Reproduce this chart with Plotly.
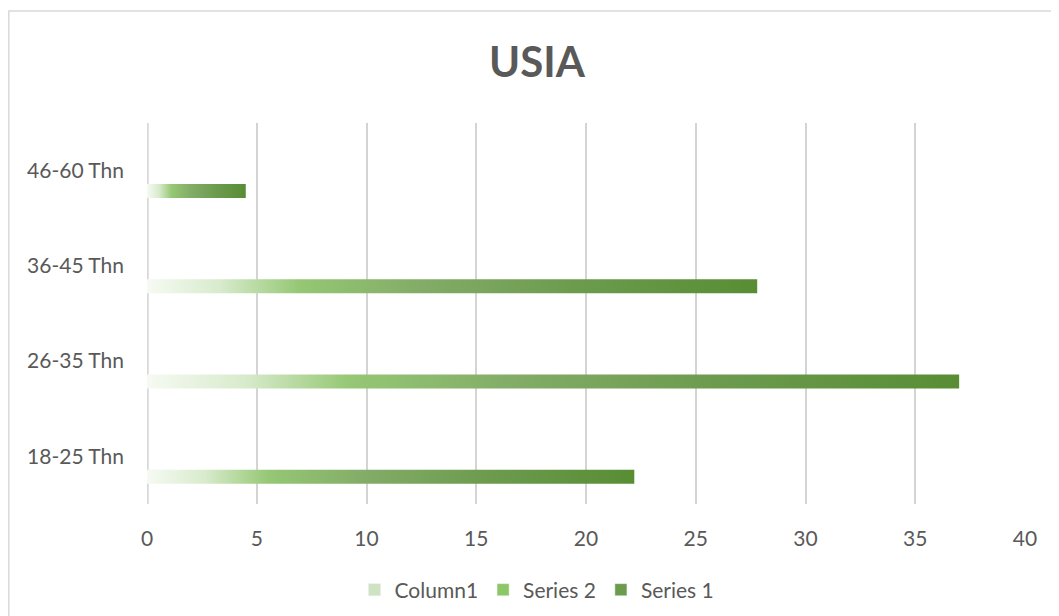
import plotly.graph_objects as go

# ---- data ----
categories = ["18-25 Thn", "26-35 Thn", "36-45 Thn", "46-60 Thn"]
series_1 = [22.2, 37.0, 27.8, 4.5]
series_2 = [None, None, None, None]
column_1 = [None, None, None, None]
series_names = ["Column1", "Series 2", "Series 1"]
x_ticks = [0, 5, 10, 15, 20, 25, 30, 35, 40]

# ---- style ----
TEXT = "#595959"
GRID = "#d4d4d4"
FONT = "Lato"
W, H = 1051, 608
L, R, T, B = 139, 34, 115, 112
BAR_STEP = 0.214      # distance between series slots in a group (category units)
BAR_HALF = 0.074      # half thickness of one bar (category units)

grad_scales = {
    "Series 1": [[0.0, "#f6faf3"], [0.12, "#d8ebcc"], [0.25, "#95c774"],
                 [0.45, "#82ac67"], [0.7, "#6c9b4e"], [1.0, "#588d34"]],
    "Series 2": [[0.0, "#f6faf3"], [0.3, "#a9d48d"], [1.0, "#7fbf55"]],
    "Column1": [[0.0, "#ffffff"], [1.0, "#c3dcb3"]],
}
legend_colors = {"Column1": "#cfe3c2", "Series 2": "#8dc666", "Series 1": "#6b9b4b"}

values_by_series = {"Column1": column_1, "Series 2": series_2, "Series 1": series_1}
# slot index from bottom of each category group
slot = {"Series 1": 0, "Series 2": 1, "Column1": 2}

fig = go.Figure()

# legend entries (bar-style square swatches)
for name in series_names:
    fig.add_trace(go.Bar(
        x=[None], y=[None], orientation="h", name=name,
        marker=dict(color=legend_colors[name]), showlegend=True,
        hoverinfo="skip",
    ))

# gradient bars drawn on the numeric category axis
for name in series_names:
    vals = values_by_series[name]
    off = (slot[name] - 1) * BAR_STEP
    for i, v in enumerate(vals):
        if v is None:
            continue
        yc = i + off
        y0, y1 = yc - BAR_HALF, yc + BAR_HALF
        fig.add_trace(go.Scatter(
            x=[0, v, v, 0, 0], y=[y0, y0, y1, y1, y0],
            mode="lines", fill="toself", line=dict(width=0),
            fillgradient=dict(type="horizontal", colorscale=grad_scales[name],
                              start=0, stop=v),
            showlegend=False, hoverinfo="text",
            text=f"{name}: {categories[i]} = {v}",
        ))

# chart-area border (Excel style)
pw, ph = W - L - R, H - T - B
fig.add_shape(type="rect", xref="paper", yref="paper",
              x0=(0.8 - L) / pw, x1=(W + 20 - L) / pw,
              y0=-(H + 20 - (H - B)) / ph, y1=1 + (T - 3) / ph,
              line=dict(color="#d9d9d9", width=1.5), fillcolor="rgba(0,0,0,0)",
              layer="below")

fig.update_layout(
    width=W, height=H,
    margin=dict(l=L, r=R, t=T, b=B),
    paper_bgcolor="white", plot_bgcolor="white",
    font=dict(family=FONT, color=TEXT, size=21),
    title=dict(text="<b>USIA</b>", font=dict(family=FONT, size=42, color=TEXT),
               x=529 / W, xref="container", xanchor="center",
               y=1 - 54 / H, yref="container", yanchor="middle"),
    barmode="group",
    legend=dict(orientation="h", x=529 / W, xref="container", xanchor="center",
                y=1 - 582 / H, yref="container", yanchor="middle",
                font=dict(size=21, color=TEXT), itemwidth=30,
                bgcolor="rgba(0,0,0,0)"),
    showlegend=True,
)
fig.update_xaxes(range=[0, 40], tickvals=x_ticks, ticktext=[str(t) for t in x_ticks],
                 showgrid=True, gridcolor=GRID, gridwidth=1.5,
                 zeroline=False, showline=False, ticks="",
                 ticklabelstandoff=20, tickfont=dict(size=21, color=TEXT))
fig.update_yaxes(range=[-0.5, len(categories) - 0.5],
                 tickvals=list(range(len(categories))), ticktext=categories,
                 showgrid=False, zeroline=False, showline=False, ticks="",
                 ticklabelstandoff=22, tickfont=dict(size=21, color=TEXT))
# thicker axis line at x = 0
fig.add_shape(type="line", xref="x", yref="paper", x0=0, x1=0, y0=0, y1=1,
              line=dict(color="#d9d9d9", width=3.5), layer="below")

fig.write_html("out.html")
